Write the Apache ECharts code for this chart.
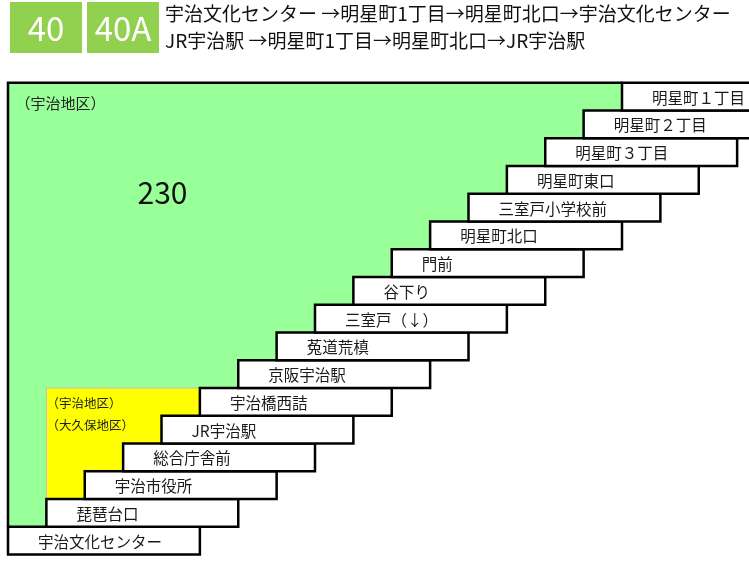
<!DOCTYPE html>
<html><head><meta charset="utf-8">
<script src="https://cdn.jsdelivr.net/npm/echarts@6/dist/echarts.min.js"></script>
<style>html,body{margin:0;padding:0;background:#fff}#c{width:749px;height:562px}</style>
</head><body><div id="c"></div>
<script>
// ---- data ----
const routeNumbers = ['40', '40A'];
const routeTitles = [
  '宇治文化センター →明星町1丁目→明星町北口→宇治文化センター',
  'JR宇治駅 →明星町1丁目→明星町北口→JR宇治駅'
];
// stations, from the bottom row to the top row
const stations = ['宇治文化センター','琵琶台口','宇治市役所','総合庁舎前','JR宇治駅','宇治橋西詰','京阪宇治駅','菟道荒槙','三室戸（↓）','谷下り','門前','明星町北口','三室戸小学校前','明星町東口','明星町３丁目','明星町２丁目','明星町１丁目'];
// fare zones: first and last station index of each zone
const zoneFrom = [0, 1];
const zoneTo = [16, 5];
const zoneFares = ['230', ''];
const zoneLabels = [['（宇治地区）'], ['（宇治地区）', '（大久保地区）']];

// ---- styles / layout ----
const FONT = '"Noto Sans CJK JP","Noto Sans",sans-serif';
const zoneFill = ['#99ff99', '#ffff00'];
const zoneBorder = ['#000000', '#c0c0c0'];
const zoneBorderWidth = [2.5, 1];
const zoneLabelSize = [15, 12.5];
const zoneLabelDx = [7.5, 0];
const zoneLabelDy = [20, 15];
const zoneLabelGap = 22;
const fareDx = 154.5, fareDy = 110;
const boxSpan = 5;
const rowsTotal = stations.length;
const colPx = 38.375;
const gridLeft = 8;
const xMax = (749 - gridLeft) / colPx;

const chart = echarts.init(document.getElementById('c'), null, {renderer: 'canvas'});

function zoneRender(params, api) {
  const i = params.dataIndex;
  const a = zoneFrom[i], b = zoneTo[i];
  const pts = [[a, a + 1], [a, b + 1], [b, b + 1]];
  for (let k = b; k > a; k--) { pts.push([k, k]); pts.push([k - 1, k]); }
  const px = pts.map(p => api.coord(p));
  const corner = px[1];
  const children = [
    {type: 'polygon', shape: {points: px}, style: {fill: zoneFill[i], stroke: null}},
    {type: 'polyline', shape: {points: px.slice(0, 3)}, style: {fill: null, stroke: zoneBorder[i], lineWidth: zoneBorderWidth[i]}}
  ];
  zoneLabels[i].forEach((t, j) => {
    children.push({type: 'text', style: {text: t, x: corner[0] + zoneLabelDx[i], y: corner[1] + zoneLabelDy[i] + j * zoneLabelGap,
      fill: '#222', font: zoneLabelSize[i] + 'px ' + FONT, textAlign: 'left', textVerticalAlign: 'middle'}});
  });
  if (zoneFares[i]) {
    children.push({type: 'text', style: {text: zoneFares[i], x: corner[0] + fareDx, y: corner[1] + fareDy,
      fill: '#111', font: '30px ' + FONT, textAlign: 'center', textVerticalAlign: 'middle'}});
  }
  return {type: 'group', children};
}

function boxRender(params, api) {
  const i = api.value(0);
  const tl = api.coord([i, i + 1]);
  const br = api.coord([i + boxSpan, i]);
  return {type: 'group', children: [
    {type: 'rect', shape: {x: tl[0], y: tl[1], width: br[0] - tl[0], height: br[1] - tl[1]},
      style: {fill: '#fff', stroke: '#000', lineWidth: 2.5}},
    {type: 'text', style: {text: stations[i], x: tl[0] + 30, y: (tl[1] + br[1]) / 2 + 1,
      fill: '#1a1a1a', font: '15.5px ' + FONT, textAlign: 'left', textVerticalAlign: 'middle'}}
  ]};
}

const graphics = [];
routeNumbers.forEach((r, k) => {
  graphics.push({type: 'rect', left: 10 + k * 77, top: 2, shape: {width: 72, height: 51}, style: {fill: '#92d050'}});
  graphics.push({type: 'text', x: 46 + k * 77, y: 28, style: {text: r, fill: '#fff', font: '33px ' + FONT, textAlign: 'center', textVerticalAlign: 'middle'}});
});
routeTitles.forEach((t, k) => {
  graphics.push({type: 'text', x: 165, y: 14 + k * 27, style: {text: t, fill: '#111', font: '19px ' + FONT, textAlign: 'left', textVerticalAlign: 'middle'}});
});

chart.setOption({
  animation: false,
  grid: {left: gridLeft, top: 82.8, right: 0, height: 471.7},
  xAxis: {type: 'value', min: 0, max: xMax, show: false},
  yAxis: {type: 'value', min: 0, max: rowsTotal, show: false},
  graphic: graphics,
  series: [
    {type: 'custom', renderItem: zoneRender, data: zoneFrom.map((a, i) => [a, zoneTo[i]]), clip: false, z: 1},
    {type: 'custom', renderItem: boxRender, data: stations.map((s, i) => [i]), clip: false, z: 2}
  ]
});
</script></body></html>
